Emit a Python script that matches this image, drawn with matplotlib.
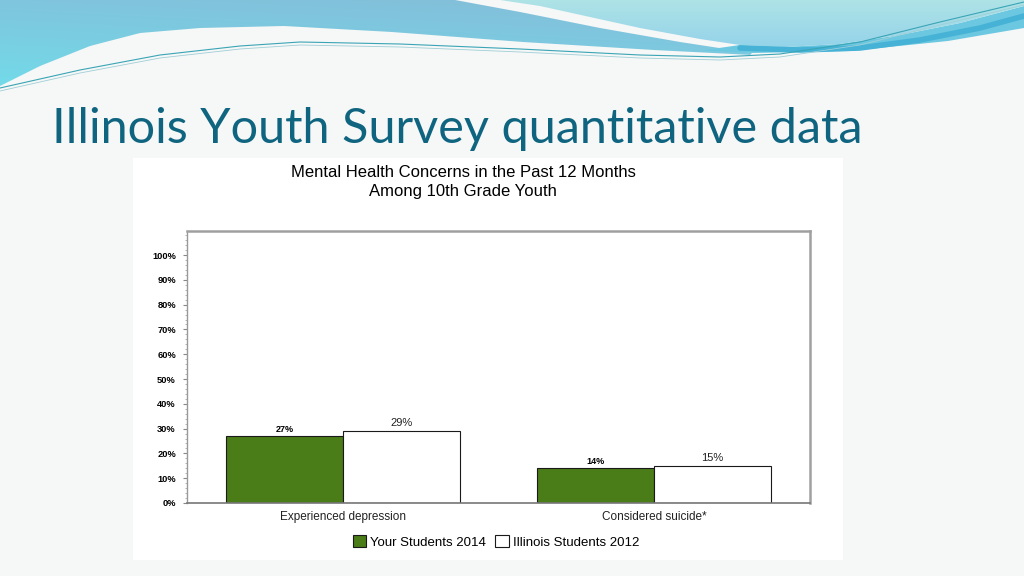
import numpy as np
import matplotlib.pyplot as plt
from matplotlib.patches import Polygon, Rectangle
from matplotlib.colors import LinearSegmentedColormap
from matplotlib.ticker import MultipleLocator, PercentFormatter

# chart data
categories = ['Experienced depression', 'Considered suicide*']
your_2014 = [0.27, 0.14]
illinois_2012 = [0.29, 0.15]
series_names = ['Your Students 2014', 'Illinois Students 2012']

green = '#4a7c18'
font = 'Liberation Sans'

fig = plt.figure(figsize=(10.24, 5.76), dpi=100)
fig.patch.set_facecolor('#f6f7f7')

# slide decoration, pixel coordinates
bg = fig.add_axes([0, 0, 1, 1], zorder=-1)
bg.set_xlim(0, 1024)
bg.set_ylim(576, 0)
bg.axis('off')

xs = np.linspace(0, 1024, 300)
lower_x = [0, 40, 90, 140, 200, 284, 392, 523, 654, 752, 850, 948, 1024]
lower_y = [86, 66, 46, 33, 28, 26, 32, 42, 50, 55, 53, 43, 30]
lower = np.interp(xs, lower_x, lower_y)

sweep_x = [455, 520, 600, 680, 752]
sweep_y = [0, 12, 28, 42, 53]
teal_x = [500, 540, 590, 640, 700, 740, 784, 840, 900, 960, 1024]
teal_y = [0, 6, 17, 28, 39, 45, 47, 44, 35, 23, 6]

# main blue band with gradient
m = xs <= 752
blue_pts = [(0, 0), (455, 0)] + list(zip(sweep_x[1:], sweep_y[1:])) + \
    list(zip(xs[m][::-1], lower[m][::-1]))
blue_poly = Polygon(blue_pts, closed=True, fc='none', ec='none')
bg.add_patch(blue_poly)
gx, gy = np.meshgrid(np.linspace(0, 1, 200), np.linspace(0, 1, 100))
grad = np.clip(0.7 * gy + 0.3 * (1 - gx), 0, 1)
cmap_blue = LinearSegmentedColormap.from_list('b', ['#85bcd8', '#72dbe9'])
im = bg.imshow(grad, extent=[0, 760, 90, 0], cmap=cmap_blue, aspect='auto', zorder=1)
im.set_clip_path(blue_poly)

# right band under teal area
r = xs >= 700
band_pts = list(zip(teal_x[5:], teal_y[5:])) + [(1024, 30)] + \
    list(zip(xs[r][::-1], lower[r][::-1] - 2))
bg.add_patch(Polygon(band_pts, closed=True, fc='#6cc8e0', ec='none', zorder=1))
stripe_x = [740, 800, 860, 920, 980, 1024]
stripe_y = [48, 50, 48, 40, 28, 16]
bg.plot(stripe_x, stripe_y, color='#45b2d6', lw=4, zorder=2, solid_capstyle='round')

# light teal top-right
teal_pts = [(500, 0), (1024, 0)] + list(zip(teal_x[::-1], teal_y[::-1]))
teal_poly = Polygon(teal_pts, closed=True, fc='none', ec='none')
bg.add_patch(teal_poly)
cmap_teal = LinearSegmentedColormap.from_list('t', ['#aee3e6', '#93d2ea'])
im2 = bg.imshow(np.linspace(0, 1, 50).reshape(-1, 1), extent=[480, 1024, 50, 0],
                cmap=cmap_teal, aspect='auto', zorder=1)
im2.set_clip_path(teal_poly)

# thin lines along the wave
line_x = [0, 80, 160, 240, 300, 400, 520, 640, 720, 780, 860, 940, 1024]
line_y = [88, 70, 55, 46, 42, 44, 49, 55, 57, 54, 42, 22, 2]
bg.plot(line_x, line_y, color='#3aa5b5', lw=0.8, zorder=2)
bg.plot(line_x, np.array(line_y) + 3, color='#9fcfd6', lw=0.6, zorder=2)

# slide title
bg.text(52, 143, 'Illinois Youth Survey quantitative data', fontsize=35,
        family='Lato', color='#0f6580', ha='left', va='baseline')

# chart panel
bg.add_patch(Rectangle((133, 158), 710, 402, fc='white', ec='none', zorder=1))
bg.text(463, 182, 'Mental Health Concerns in the Past 12 Months\nAmong 10th Grade Youth',
        fontsize=12, family=font, ha='center', va='center', linespacing=1.3, zorder=3)

ax = fig.add_axes([187 / 1024, 1 - 503 / 576, 623 / 1024, 272 / 576])
ax.set_facecolor('white')
x = np.arange(len(categories))
w = 0.375
b1 = ax.bar(x - w / 2, your_2014, w, color=green, edgecolor='#1a1a1a', lw=0.8,
            label=series_names[0])
b2 = ax.bar(x + w / 2, illinois_2012, w, color='white', edgecolor='#1a1a1a', lw=0.8,
            label=series_names[1])
for rect, v in zip(b1, your_2014):
    ax.text(rect.get_x() + rect.get_width() / 2, v + 0.008, f'{v:.0%}', ha='center',
            va='bottom', fontsize=6.5, fontweight='bold', family=font)
for rect, v in zip(b2, illinois_2012):
    ax.text(rect.get_x() + rect.get_width() / 2, v + 0.012, f'{v:.0%}', ha='center',
            va='bottom', fontsize=8, family=font, color='#222222')

ax.set_xlim(-0.5, 1.5)
ax.set_ylim(0, 1.097)
ax.yaxis.set_minor_locator(MultipleLocator(0.02))
ax.yaxis.set_major_formatter(PercentFormatter(1.0, decimals=0))
ax.set_yticks([0, 0.1, 0.2, 0.3, 0.4, 0.5, 0.6, 0.7, 0.8, 0.9, 1.0])
ax.set_xticks(x)
ax.set_xticklabels(categories, fontsize=8.5, family=font, color='#222222')
ax.tick_params(axis='x', length=0, pad=6)
ax.tick_params(axis='y', which='major', length=3, color='#888888', pad=5)
ax.tick_params(axis='y', which='minor', length=1.5, color='#aaaaaa')
for lbl in ax.get_yticklabels():
    lbl.set_fontsize(6.7)
    lbl.set_fontweight('bold')
    lbl.set_family(font)
for side in ['top', 'right']:
    ax.spines[side].set_color('#a0a0a0')
    ax.spines[side].set_linewidth(1.8)
ax.spines['left'].set_color('#999999')
ax.spines['left'].set_linewidth(1)
ax.spines['bottom'].set_color('#777777')
ax.spines['bottom'].set_linewidth(1.2)

ax.legend(loc='center', bbox_to_anchor=(496 / 1024, 1 - 542 / 576),
          bbox_transform=fig.transFigure, ncol=2, frameon=False,
          prop={'family': font, 'size': 9.5}, handlelength=1.0, handleheight=1.0,
          handletextpad=0.3, columnspacing=0.7)

fig.savefig('out.png', dpi=100, facecolor=fig.get_facecolor())
